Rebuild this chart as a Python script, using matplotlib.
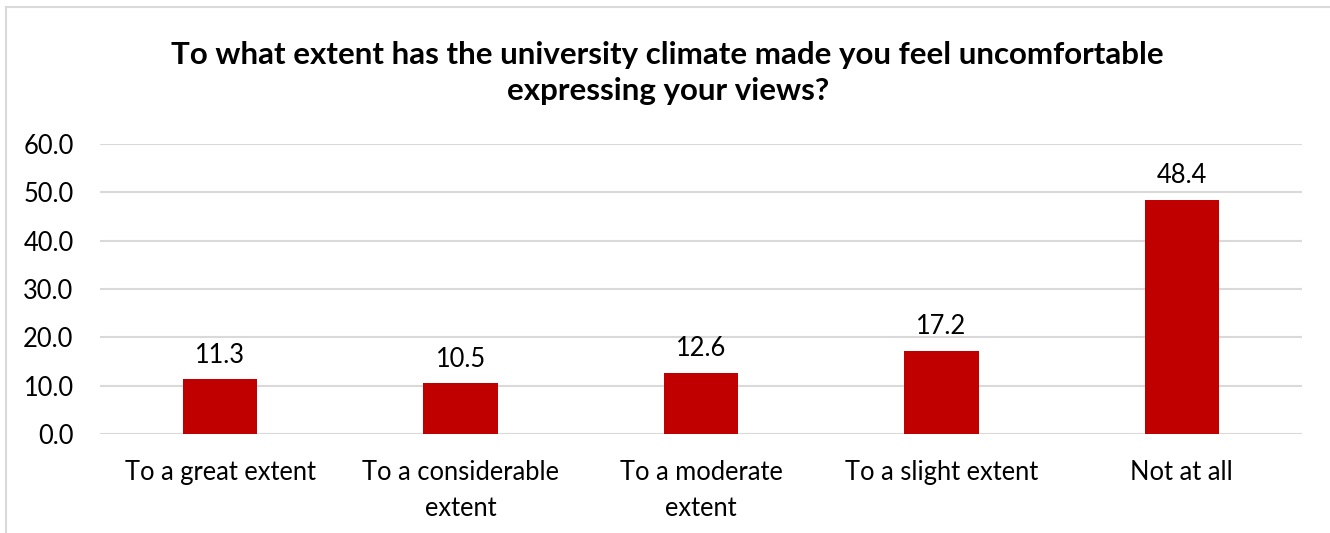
import matplotlib.pyplot as plt
from matplotlib.lines import Line2D

categories = ["To a great extent", "To a considerable\nextent", "To a moderate\nextent",
              "To a slight extent", "Not at all"]
values = [11.3, 10.5, 12.6, 17.2, 48.4]
yticks = [0, 10, 20, 30, 40, 50, 60]

plt.rcParams["font.family"] = ["Lato", "DejaVu Sans"]

fig = plt.figure(figsize=(13.3, 5.33), dpi=100)
ax = fig.add_axes([100 / 1330, 1 - 434 / 533, 1202 / 1330, 290 / 533])

x = range(len(categories))
bars = ax.bar(x, values, width=0.31, color="#C00000", zorder=3)
for b, v in zip(bars, values):
    ax.text(b.get_x() + b.get_width() / 2, v + 2.4, f"{v:.1f}",
            ha="center", va="bottom", fontsize=18.4, color="#000000")

ax.set_xlim(-0.5, len(categories) - 0.5)
ax.set_ylim(0, 60)
ax.set_yticks(yticks)
ax.set_yticklabels([f"{t:.1f}" for t in yticks], fontsize=18.4)
ax.set_xticks(list(x))
ax.set_xticklabels(categories, fontsize=18.4, linespacing=1.55, va="top")
ax.tick_params(axis="both", length=0)
ax.tick_params(axis="y", pad=19)
ax.tick_params(axis="x", pad=19)
ax.yaxis.grid(True, color="#D9D9D9", linewidth=1.5, zorder=0)
for s in ax.spines.values():
    s.set_visible(False)

fig.text(0.502, 1 - 73 / 533, "To what extent has the university climate made you feel uncomfortable\nexpressing your views?",
         ha="center", va="center", fontsize=22.5, fontweight="bold", linespacing=1.32)

# chart frame (top and left edges visible)
fig.add_artist(Line2D([6 / 1330, 6 / 1330], [0, 1 - 7 / 533], transform=fig.transFigure,
                      color="#D9D9D9", linewidth=1.5))
fig.add_artist(Line2D([6 / 1330, 1], [1 - 7 / 533, 1 - 7 / 533], transform=fig.transFigure,
                      color="#D9D9D9", linewidth=1.5))

fig.savefig("out.png", dpi=100)
